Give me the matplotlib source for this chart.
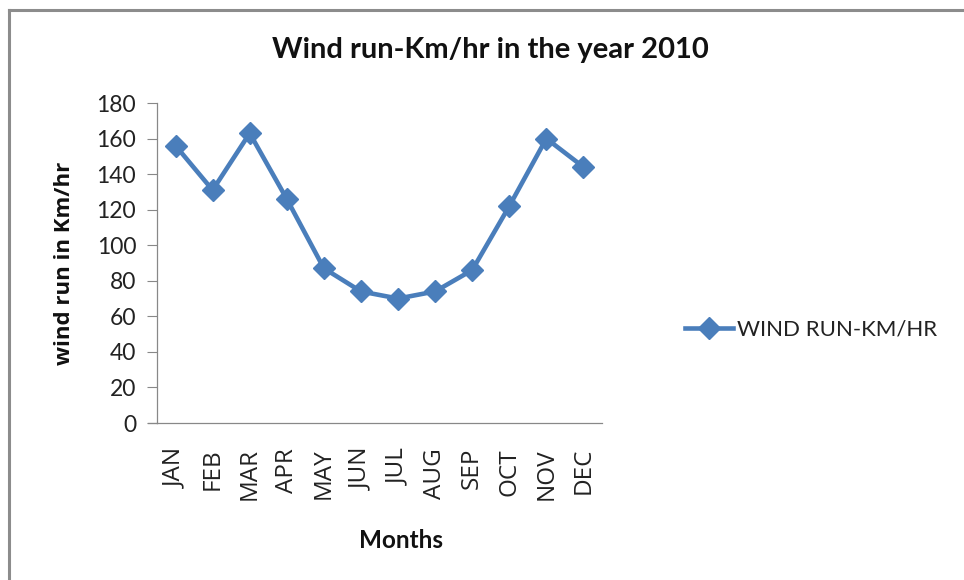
import matplotlib
matplotlib.use("Agg")
import matplotlib.pyplot as plt
from matplotlib.lines import Line2D

months = ["JAN", "FEB", "MAR", "APR", "MAY", "JUN", "JUL", "AUG", "SEP", "OCT", "NOV", "DEC"]
wind_run = [156, 131, 163, 126, 87, 74, 70, 74, 86, 122, 160, 144]
yticks = [0, 20, 40, 60, 80, 100, 120, 140, 160, 180]
series_name = "WIND RUN-KM/HR"

plt.rcParams['font.family'] = ['Lato', 'DejaVu Sans']
color = '#4A7EBB'

fig = plt.figure(figsize=(9.64, 5.8), dpi=100)
W, H = 964, 580
ax = fig.add_axes([157 / W, 1 - 423 / H, (602 - 157) / W, (423 - 103) / H])

x = list(range(len(months)))
ax.plot(x, wind_run, color=color, lw=3.3, marker='D', markersize=11,
        markerfacecolor=color, markeredgecolor=color, solid_joinstyle='round',
        label=series_name)

ax.set_xlim(-0.5, len(months) - 0.5)
ax.set_ylim(0, 180)
ax.set_yticks(yticks)
ax.set_yticklabels([str(v) for v in yticks], fontsize=16.5, color='#222222')
ax.set_xticks(x)
ax.set_xticklabels(months, rotation=90, fontsize=17.5, color='#222222',
                   family=['Open Sans', 'DejaVu Sans'])
ax.tick_params(axis='x', length=0, pad=18)
ax.tick_params(axis='y', length=7, width=0.8, color='#888888', pad=8)

for s in ['top', 'right']:
    ax.spines[s].set_visible(False)
for s in ['left', 'bottom']:
    ax.spines[s].set_color('#888888')
    ax.spines[s].set_linewidth(0.9)
# extend bottom axis slightly to the left like Excel
ax.plot([-0.5 - 9 / 37.1, -0.5], [0, 0], color='#888888', lw=0.9, clip_on=False)

fig.text(490 / W, 1 - 50 / H, "Wind run-Km/hr in the year 2010", ha='center', va='center',
         fontsize=21, fontweight='bold', color='#111111')
fig.text(64 / W, 1 - 263 / H, "wind run in Km/hr", rotation=90, ha='center', va='center',
         fontsize=16, fontweight='bold', color='#111111',
         family=['Open Sans', 'DejaVu Sans'])
fig.text(401 / W, 1 - 540 / H, "Months", ha='center', va='center',
         fontsize=17.5, fontweight='bold', color='#111111')

leg = ax.legend(loc='center left', bbox_to_anchor=(674 / W, 1 - 330 / H),
                bbox_transform=fig.transFigure, frameon=False, fontsize=16,
                handlelength=2.15, handletextpad=0.2, borderpad=0)
for t in leg.get_texts():
    t.set_color('#222222')

# outer frame
fig.add_artist(Line2D([9 / W, 1.0], [1 - 10 / H, 1 - 10 / H], transform=fig.transFigure,
                      color='#8c8c8c', lw=2.2))
fig.add_artist(Line2D([9 / W, 9 / W], [0, 1 - 10 / H], transform=fig.transFigure,
                      color='#8c8c8c', lw=2.2))

fig.savefig("out.png", dpi=100)
